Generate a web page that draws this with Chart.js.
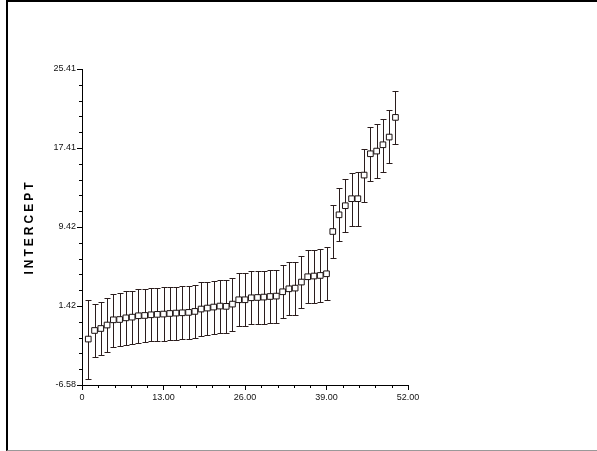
<!DOCTYPE html>
<html>
<head>
<meta charset="utf-8">
<script src="https://cdn.jsdelivr.net/npm/chart.js@4/dist/chart.umd.min.js"></script>
<style>
  html, body { margin:0; padding:0; background:#fff; }
  #wrap { position:relative; width:597px; height:451px; overflow:hidden; }
  #frame { position:absolute; left:6px; top:0; width:591px; height:451px; border-top:2px solid #000; border-left:2px solid #000; border-bottom:1px solid #999; box-sizing:border-box; pointer-events:none; }
  canvas { position:absolute; left:0; top:0; }
</style>
</head>
<body>
<div id="wrap">
<canvas id="c" width="597" height="451"></canvas>
<div id="frame"></div>
</div>
<script>
// ---- data ----
const xValues = [1,2,3,4,5,6,7,8,9,10,11,12,13,14,15,16,17,18,19,20,21,22,23,24,25,26,27,28,29,30,31,32,33,34,35,36,37,38,39,40,41,42,43,44,45,46,47,48,49,50];
const means = [-1.93,-1.06,-0.86,-0.51,0.02,0.05,0.22,0.29,0.43,0.46,0.53,0.57,0.60,0.66,0.70,0.73,0.77,0.87,1.11,1.21,1.31,1.41,1.38,1.61,2.05,2.05,2.25,2.28,2.32,2.38,2.42,2.86,3.16,3.23,3.84,4.38,4.45,4.51,4.68,8.96,10.65,11.57,12.28,12.28,14.67,16.83,17.10,17.74,18.52,20.51];
const uppers = [2.04,1.61,1.81,2.18,2.65,2.70,2.89,2.96,3.09,3.13,3.20,3.25,3.35,3.33,3.37,3.40,3.44,3.55,3.80,3.89,3.99,4.09,4.06,4.29,4.72,4.73,4.93,4.96,5.00,5.06,5.10,5.54,5.84,5.91,6.50,7.06,7.13,7.19,7.34,11.67,13.36,14.27,14.88,15.00,17.34,19.50,19.84,20.38,21.22,23.14];
const lowers = [-5.95,-3.75,-3.55,-3.19,-2.71,-2.65,-2.50,-2.40,-2.28,-2.23,-2.16,-2.12,-2.12,-2.03,-1.98,-1.95,-1.91,-1.82,-1.58,-1.47,-1.37,-1.27,-1.30,-1.07,-0.63,-0.62,-0.43,-0.40,-0.36,-0.30,-0.26,0.18,0.48,0.55,1.18,1.70,1.77,1.83,2.05,6.27,7.95,8.86,9.54,9.50,11.97,14.10,14.40,15.01,15.85,17.81];
const xTickLabels = ['0','13.00','26.00','39.00','52.00'];
const yTickLabels = ['-6.58','1.42','9.42','17.41','25.41'];
const xMin = 0, xMax = 52, yMin = -6.58, yMax = 25.41;
const yTitle = 'INTERCEPT';

const points = xValues.map((x, i) => ({x: x, y: means[i]}));

function buildTicks(min, max) {
  const t = [];
  for (let i = 0; i <= 20; i++) t.push({value: min + (max - min) * i / 20});
  return t;
}

const barColor = '#2a1c1c';

const errorBars = {
  id: 'errorBars',
  beforeDatasetsDraw(chart) {
    const {ctx, scales: {x, y}} = chart;
    ctx.save();
    ctx.strokeStyle = barColor;
    ctx.lineWidth = 1;
    xValues.forEach((xv, i) => {
      const px = Math.round(x.getPixelForValue(xv)) + 0.5;
      const pt = Math.round(y.getPixelForValue(uppers[i])) + 0.5;
      const pb = Math.round(y.getPixelForValue(lowers[i])) + 0.5;
      ctx.beginPath();
      ctx.moveTo(px, pt); ctx.lineTo(px, pb);
      ctx.moveTo(px - 3, pt); ctx.lineTo(px + 3, pt);
      ctx.moveTo(px - 3, pb); ctx.lineTo(px + 3, pb);
      ctx.stroke();
    });
    ctx.restore();
  },
  afterDraw(chart) {
    const {ctx, scales: {x, y}, chartArea} = chart;
    ctx.save();
    ctx.strokeStyle = '#000';
    ctx.lineWidth = 1;
    ctx.beginPath();
    x.ticks.forEach((t, i) => {
      if (i % 5 === 0) return;
      const px = Math.round(x.getPixelForValue(t.value)) + 0.5;
      ctx.moveTo(px, chartArea.bottom); ctx.lineTo(px, chartArea.bottom + 3);
    });
    y.ticks.forEach((t, i) => {
      if (i % 5 === 0) return;
      const py = Math.round(y.getPixelForValue(t.value)) + 0.5;
      ctx.moveTo(chartArea.left, py); ctx.lineTo(chartArea.left - 3, py);
    });
    ctx.stroke();
    ctx.restore();
  }
};

Chart.defaults.font.family = "'Liberation Sans', Arial, sans-serif";
Chart.defaults.font.size = 9;
Chart.defaults.color = '#111';

new Chart(document.getElementById('c'), {
  type: 'scatter',
  data: {
    datasets: [{
      data: points,
      pointStyle: 'rect',
      pointRadius: 4,
      pointHoverRadius: 4,
      pointBackgroundColor: '#fff',
      pointBorderColor: '#1a1010',
      pointBorderWidth: 1,
      showLine: false
    }]
  },
  options: {
    responsive: false,
    animation: false,
    events: [],
    layout: { padding: { top: 69, right: 189, bottom: 0, left: 8 } },
    plugins: { legend: { display: false }, tooltip: { enabled: false } },
    scales: {
      x: {
        type: 'linear', min: xMin, max: xMax,
        afterBuildTicks: s => { s.ticks = buildTicks(xMin, xMax); },
        afterFit: s => { s.height = 66; },
        ticks: {
          autoSkip: false, maxRotation: 0, padding: 2,
          callback: (v, i) => (i % 5 === 0 ? xTickLabels[i / 5] : '')
        },
        grid: {
          drawOnChartArea: false, drawTicks: true, tickLength: 5,
          tickColor: c => (c.index % 5 === 0 ? '#000' : 'rgba(0,0,0,0)'),
          color: '#000'
        },
        border: { display: true, color: '#000', width: 1 }
      },
      y: {
        type: 'linear', min: yMin, max: yMax,
        afterBuildTicks: s => { s.ticks = buildTicks(yMin, yMax); },
        afterFit: s => {
          s.width = 74;
          if (!s._lsPatched) {
            const orig = s.drawTitle;
            s.drawTitle = function () {
              const ctx = this.ctx;
              ctx.save();
              ctx.letterSpacing = '3px';
              orig.call(this);
              ctx.restore();
            };
            s._lsPatched = true;
          }
        },
        ticks: {
          autoSkip: false, padding: 1,
          callback: (v, i) => (i % 5 === 0 ? yTickLabels[i / 5] : '')
        },
        grid: {
          drawOnChartArea: false, drawTicks: true, tickLength: 5,
          tickColor: c => (c.index % 5 === 0 ? '#000' : 'rgba(0,0,0,0)'),
          color: '#000'
        },
        border: { display: true, color: '#000', width: 1 },
        title: {
          display: true, text: yTitle, color: '#000',
          font: { size: 12, weight: 'bold' },
          padding: { top: 14, bottom: 0 }
        }
      }
    }
  },
  plugins: [errorBars]
});
</script>
</body>
</html>
